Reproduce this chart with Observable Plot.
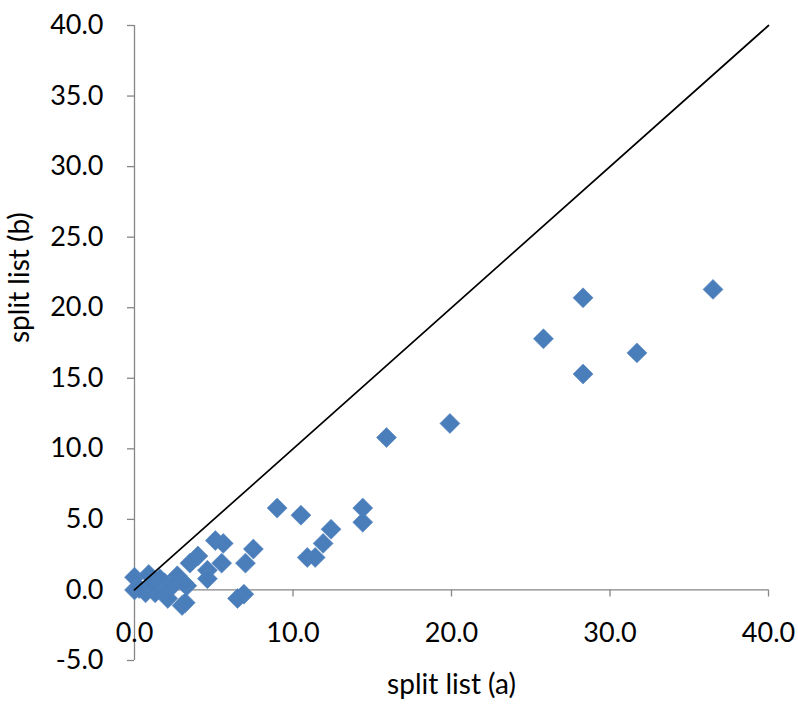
<!DOCTYPE html>
<html>
<head>
<meta charset="utf-8">
<script src="https://cdn.jsdelivr.net/npm/d3@7"></script>
<script src="https://cdn.jsdelivr.net/npm/@observablehq/plot@0.6"></script>
<style>
  html, body { margin: 0; padding: 0; background: #fff; }
  #chart { width: 798px; height: 706px; }
</style>
</head>
<body>
<div id="chart"></div>
<script>
// split list (a) values
const xValues = [36.5, 28.3, 25.8, 31.7, 28.3, 19.9, 15.9, 9.0, 10.5, 14.4, 14.4, 12.4, 11.9, 10.9, 11.4,
                 7.5, 7.0, 6.9, 6.5, 5.1, 5.6, 4.0, 3.5, 4.6, 4.6, 5.5, 3.0, 2.1, 0.0, 0.0,
                 0.9, 0.7, 1.3, 1.9, 2.7, 3.3, 1.6, 2.4, 0.3, 1.1, 3.1, 3.2];
// split list (b) values
const yValues = [21.3, 20.7, 17.8, 16.8, 15.3, 11.8, 10.8, 5.8, 5.3, 5.8, 4.8, 4.3, 3.3, 2.3, 2.3,
                 2.9, 1.9, -0.3, -0.6, 3.5, 3.3, 2.4, 1.9, 1.4, 0.8, 1.9, -1.1, -0.6, 0.9, 0.0,
                 1.1, -0.2, -0.2, 0.5, 1.0, 0.3, 0.8, 0.3, 0.1, 0.4, 0.5, -0.9];
// reference line y = x
const diagX = [0, 40];
const diagY = [0, 40];
// tick labels
const xTicks = [0, 10, 20, 30, 40];
const yTicks = [-5, 0, 5, 10, 15, 20, 25, 30, 35, 40];

const points = xValues.map((x, i) => ({x, y: yValues[i]}));
const diag = diagX.map((x, i) => ({x, y: diagY[i]}));

const axisColor = "#868686";
const font = "Lato, 'Open Sans', sans-serif";
const fs = 27;
const fsTitle = 28;

const chart = Plot.plot({
  width: 798,
  height: 706,
  marginLeft: 134,
  marginRight: 30,
  marginTop: 25,
  marginBottom: 46,
  style: {fontFamily: font, fontSize: fs + "px", color: "#000", background: "#fff"},
  x: {domain: [0, 40], label: null, axis: null},
  y: {domain: [-5, 40], label: null, axis: null},
  marks: [
    // y axis
    Plot.ruleX([0], {y1: -5, y2: 40, stroke: axisColor, strokeWidth: 1.3}),
    Plot.axisY(yTicks, {
      anchor: "left",
      tickSize: 7,
      tickPadding: 24,
      stroke: axisColor,
      strokeWidth: 1.3,
      tickFormat: d => d.toFixed(1),
      fill: "#000",
      fontSize: fs,
      label: null
    }),
    Plot.text(["split list (b)"], {
      frameAnchor: "left",
      dx: -114,
      rotate: -90,
      text: d => d,
      fontSize: fsTitle,
      fill: "#000"
    }),
    // x axis at y = 0
    Plot.ruleY([0], {x1: 0, x2: 40, stroke: axisColor, strokeWidth: 1.3}),
    Plot.ruleX(xTicks, {x: d => d, y1: 0, y2: -0.5, stroke: axisColor, strokeWidth: 1.3}),
    Plot.text(xTicks, {x: d => d, y: 0, dy: 43, text: d => d.toFixed(1), fontSize: fs, fill: "#000"}),
    Plot.text(["split list (a)"], {
      frameAnchor: "bottom",
      dy: 33,
      text: d => d,
      fontSize: fsTitle,
      fill: "#000"
    }),
    // data
    Plot.dot(points, {x: "x", y: "y", symbol: "diamond2", r: 9, fill: "#4a7ebb", stroke: "#5585c0", strokeWidth: 0.6}),
    Plot.line(diag, {x: "x", y: "y", stroke: "#000", strokeWidth: 1.7})
  ]
});
document.getElementById("chart").appendChild(chart);
</script>
</body>
</html>
